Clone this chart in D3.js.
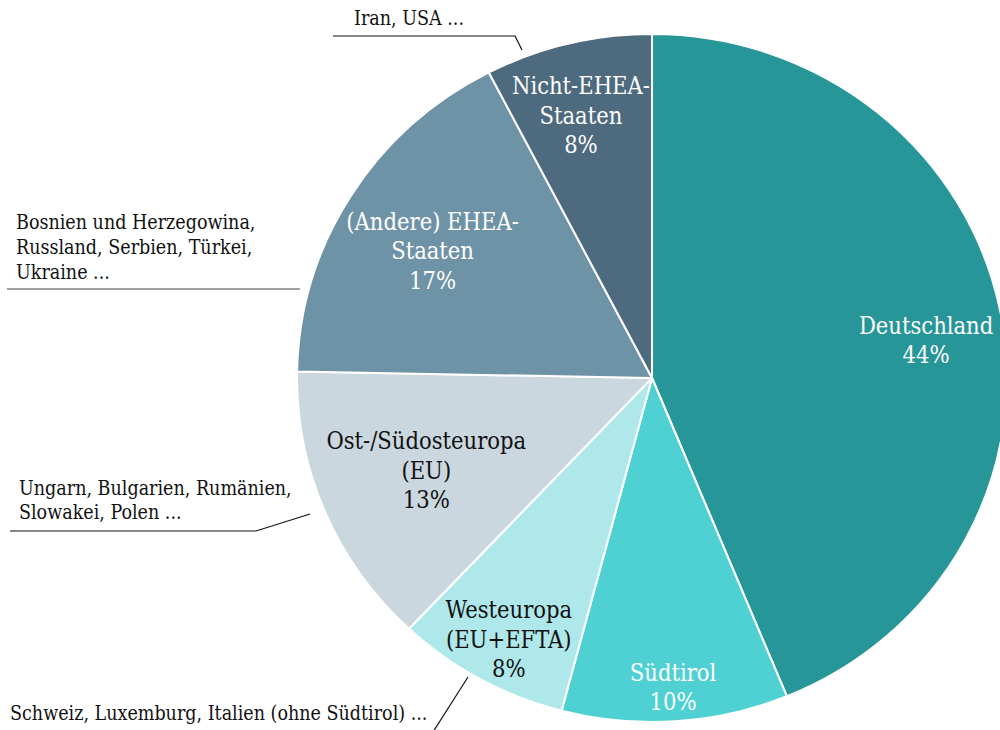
<!DOCTYPE html>
<html>
<head>
<meta charset="utf-8">
<script src="https://cdn.jsdelivr.net/npm/d3@7"></script>
<style>
  body { margin: 0; background: #fff; }
  svg { display: block; }
  text { font-family: "DejaVu Serif Condensed", "DejaVu Serif", serif; font-stretch: condensed; }
</style>
</head>
<body>
<div id="chart"></div>
<script>
// slices clockwise from 12 o'clock
const categories = [
  ["Deutschland"],
  ["Südtirol"],
  ["Westeuropa", "(EU+EFTA)"],
  ["Ost-/Südosteuropa", "(EU)"],
  ["(Andere) EHEA-", "Staaten"],
  ["Nicht-EHEA-", "Staaten"]
];
const shares = [43.8, 10.3, 7.9, 13.3, 17.1, 7.6];
const colors = ["#279699", "#4fd0d3", "#aee8eb", "#cad7df", "#6f93a6", "#4e6a7e"];
const textColors = ["#fff", "#fff", "#111", "#111", "#fff", "#fff"];
// label placement: share of radius, plus a small angle nudge (degrees)
const labelR = [0.78, 0.90, 0.86, 0.69, 0.72, 0.79];
const labelTurn = [3, 0, -1, 0, -1, -1];

const notes = [
  ["Iran, USA ..."],
  ["Bosnien und Herzegowina,", "Russland, Serbien, Türkei,", "Ukraine ..."],
  ["Ungarn, Bulgarien, Rumänien,", "Slowakei, Polen ..."],
  ["Schweiz, Luxemburg, Italien (ohne Südtirol) ..."]
];

const w = 1000, h = 730;
const cx = 652, cy = 378;
const r = 344, stretch = 355 / 344;

const svg = d3.select("#chart").append("svg")
  .attr("width", w)
  .attr("height", h);

const pie = d3.pie().sort(null).value(d => d);
const arcs = pie(shares);
const arc = d3.arc().innerRadius(0).outerRadius(r);

const g = svg.append("g")
  .attr("transform", "translate(" + cx + "," + cy + ") scale(" + stretch + ",1)");

g.selectAll("path")
  .data(arcs)
  .enter()
  .append("path")
  .attr("d", arc)
  .attr("fill", (d, i) => colors[i])
  .attr("stroke", "#fff")
  .attr("stroke-width", 2)
  .attr("stroke-linejoin", "round");

// labels (outside the stretched group so text is not distorted)
arcs.forEach((d, i) => {
  const a = (d.startAngle + d.endAngle) / 2 + labelTurn[i] * Math.PI / 180;
  const x = cx + Math.sin(a) * r * labelR[i] * stretch;
  const y = cy - Math.cos(a) * r * labelR[i];
  const lines = categories[i].concat([Math.round(d.data) + "%"]);
  const t = svg.append("text")
    .attr("text-anchor", "middle")
    .attr("fill", textColors[i])
    .attr("font-size", 23.5);
  const lh = 29.5;
  const y0 = y - (lines.length - 1) * lh / 2 + 8.5;
  lines.forEach((s, k) => {
    t.append("tspan").attr("x", x).attr("y", y0 + k * lh).text(s);
  });
});

// annotation boxes with leader lines
const noteLayout = [
  { x: 354, y: 25, lh: 25, path: [[333, 36], [515, 36], [522, 50]] },
  { x: 16, y: 229, lh: 25, path: [[7, 289], [300, 289]] },
  { x: 19, y: 495, lh: 24, path: [[10, 531], [256, 531], [310, 514]] },
  { x: 10, y: 720, lh: 25, path: [[433, 732], [468, 677]] }
];

notes.forEach((n, i) => {
  const L = noteLayout[i];
  const t = svg.append("text")
    .attr("fill", "#111")
    .attr("font-size", 19.5);
  n.forEach((s, k) => {
    t.append("tspan").attr("x", L.x).attr("y", L.y + k * L.lh).text(s);
  });
  svg.append("path")
    .attr("d", d3.line()(L.path))
    .attr("fill", "none")
    .attr("stroke", i === 1 ? "#444" : "#111")
    .attr("stroke-width", 1.2);
});
</script>
</body>
</html>
